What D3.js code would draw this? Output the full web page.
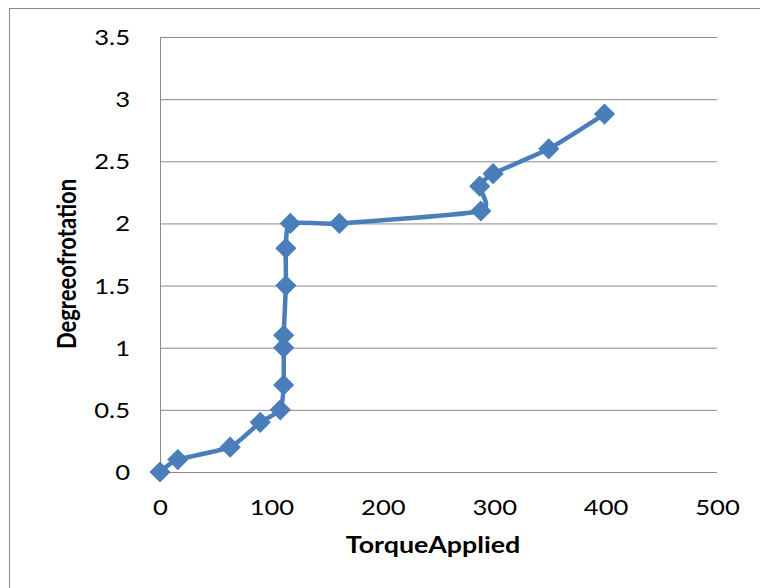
<!DOCTYPE html>
<html>
<head>
<meta charset="utf-8">
<script src="https://cdn.jsdelivr.net/npm/d3@7"></script>
<style>
    body { margin: 0; background: #fff; }
    svg { display: block; }
    text { font-family: Lato, 'Open Sans', sans-serif; fill: #000; }
</style>
</head>
<body>
<svg></svg>
<script>
let width = 760
let height = 588
let svg = d3.select('svg')
    .attr('width', width)
    .attr('height', height)

// values
let torque = [0, 16, 63, 90, 108, 111, 111, 111, 113, 113, 117, 161, 288, 287, 299, 349, 399]
let degree = [0, 0.1, 0.2, 0.4, 0.5, 0.7, 1.0, 1.1, 1.5, 1.8, 2.0, 2.0, 2.1, 2.3, 2.4, 2.6, 2.88]
let xTicks = [0, 100, 200, 300, 400, 500]
let yTicks = [0, 0.5, 1, 1.5, 2, 2.5, 3, 3.5]
let xTitle = 'TorqueApplied'
let yTitle = 'Degreeofrotation'

let points = torque.map((t, i) => ({ t: t, d: degree[i] }))

let blue = '#4a7ebb'
let gridColor = '#8a8a8a'
let textStretch = 1.22 // the source picture is stretched sideways

let plot = { left: 160, right: 717, top: 37, bottom: 472 }

let x = d3.scaleLinear().domain([0, 500]).range([plot.left, plot.right])
let y = d3.scaleLinear().domain([0, 3.5]).range([plot.bottom, plot.top])

// chart area border
svg.append('rect')
    .attr('x', 9.5)
    .attr('y', 8.5)
    .attr('width', width + 20)
    .attr('height', height + 20)
    .attr('fill', 'none')
    .attr('stroke', gridColor)

// value axis with gridlines
let yAxis = svg.append('g')
    .attr('transform', `translate(${plot.left},0)`)
    .call(d3.axisLeft(y)
        .tickValues(yTicks)
        .tickFormat(d3.format('~g'))
        .tickSizeInner(-(plot.right - plot.left))
        .tickSizeOuter(0))
yAxis.select('.domain').attr('stroke', gridColor)
yAxis.selectAll('.tick line').attr('stroke', gridColor)
yAxis.selectAll('.tick text')
    .attr('x', 0)
    .attr('dy', '0.36em')
    .attr('text-anchor', 'end')
    .attr('transform', `translate(-30,0) scale(${textStretch},1)`)
    .style('font-size', '21px')

// category axis, labels only
let xAxis = svg.append('g')
    .attr('transform', `translate(0,${plot.bottom})`)
    .call(d3.axisBottom(x)
        .tickValues(xTicks)
        .tickSize(0))
xAxis.select('.domain').remove()
xAxis.selectAll('.tick text')
    .attr('y', 0)
    .attr('dy', null)
    .attr('text-anchor', 'middle')
    .attr('transform', `translate(0,43) scale(${textStretch},1)`)
    .style('font-size', '21px')

// series, lightly smoothed like the source
let line = d3.line()
    .x(d => x(d.t))
    .y(d => y(d.d))
    .curve(d3.curveCardinal.tension(0.45))
svg.append('path')
    .datum(points)
    .attr('fill', 'none')
    .attr('stroke', blue)
    .attr('stroke-width', 4.5)
    .attr('stroke-linejoin', 'round')
    .attr('d', line)

let diamond = d3.symbol().type(d3.symbolSquare).size(225)
svg.append('g').selectAll('path')
    .data(points).enter()
    .append('path')
    .attr('d', diamond)
    .attr('fill', blue)
    .attr('transform', d => `translate(${x(d.t)},${y(d.d)}) rotate(45)`)

// titles
svg.append('text')
    .attr('transform', `translate(433,553) scale(${textStretch},1)`)
    .attr('text-anchor', 'middle')
    .style('font-size', '22px')
    .style('font-weight', 'bold')
    .text(xTitle)

svg.append('text')
    .attr('transform', `translate(76,264) scale(${textStretch},1) rotate(-90)`)
    .attr('text-anchor', 'middle')
    .style('font-size', '22px')
    .style('font-weight', 'bold')
    .text(yTitle)
</script>
</body>
</html>
